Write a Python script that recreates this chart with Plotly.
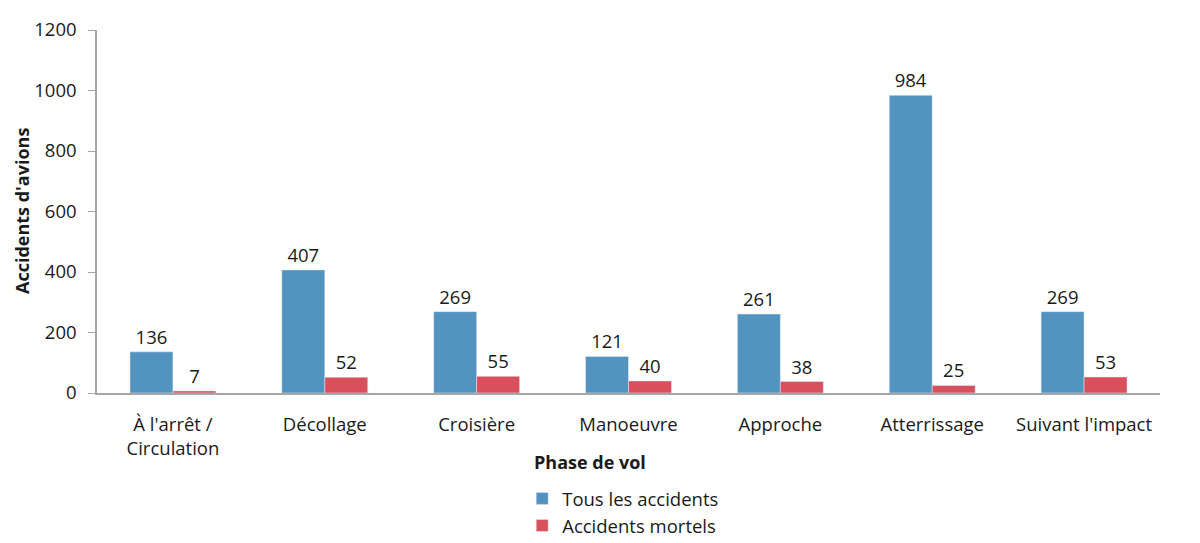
import plotly.graph_objects as go

phases = ["À l'arrêt /<br>Circulation", "Décollage", "Croisière", "Manoeuvre",
          "Approche", "Atterrissage", "Suivant l'impact"]
tous_accidents = [136, 407, 269, 121, 261, 984, 269]
accidents_mortels = [7, 52, 55, 40, 38, 25, 53]

FONT = "Open Sans, Noto Sans, sans-serif"
TXT = "#1a1a1a"

fig = go.Figure()
fig.add_trace(go.Bar(
    name="Tous les accidents",
    x=phases,
    y=tous_accidents,
    marker_color="#5393C0",
    text=tous_accidents,
    textposition="outside",
    textfont=dict(size=18.5, color=TXT),
    cliponaxis=False,
))
fig.add_trace(go.Bar(
    name="Accidents mortels",
    x=phases,
    y=accidents_mortels,
    marker_color="#D9505C",
    text=accidents_mortels,
    textposition="outside",
    textfont=dict(size=18.5, color=TXT),
    cliponaxis=False,
))

# axis titles as annotations so they sit where the reference has them
fig.add_annotation(
    text="<b>Phase de vol</b>", xref="paper", yref="paper",
    x=0.464, y=-0.19, xanchor="center", yanchor="middle",
    showarrow=False, font=dict(size=18, color=TXT),
)
fig.add_annotation(
    text="<b>Accidents d'avions</b>", xref="paper", yref="paper",
    x=-0.071, y=0.5, xanchor="center", yanchor="middle", textangle=-90,
    showarrow=False, font=dict(size=18, color=TXT),
)

# page body has an 8px margin, so the figure is a bit smaller and shifted
fig.update_layout(
    width=1192,
    height=535,
    barmode="group",
    bargap=0.434,
    bargroupgap=0,
    paper_bgcolor="white",
    plot_bgcolor="white",
    font=dict(family=FONT, size=18.5, color=TXT),
    margin=dict(l=89, r=40, t=22, b=150, autoexpand=False),
    showlegend=True,
    legend=dict(
        orientation="v",
        xref="paper", x=0.40, xanchor="left",
        yref="container", y=0.118, yanchor="top",
        font=dict(size=18.5),
        traceorder="normal",
        itemwidth=30,
        tracegroupgap=0,
    ),
    xaxis=dict(
        showline=True,
        linecolor="#A6A6A6",
        linewidth=1.5,
        ticks="",
        ticklabelstandoff=14,
        tickfont=dict(size=18.5),
        showgrid=False,
        automargin=False,
    ),
    yaxis=dict(
        range=[0, 1200],
        dtick=200,
        showline=True,
        linecolor="#A6A6A6",
        linewidth=1.5,
        ticks="outside",
        ticklen=7,
        tickcolor="#A6A6A6",
        ticklabelstandoff=8,
        tickfont=dict(size=18.5),
        showgrid=False,
        zeroline=False,
        automargin=False,
    ),
)

fig.write_html("out.html")
